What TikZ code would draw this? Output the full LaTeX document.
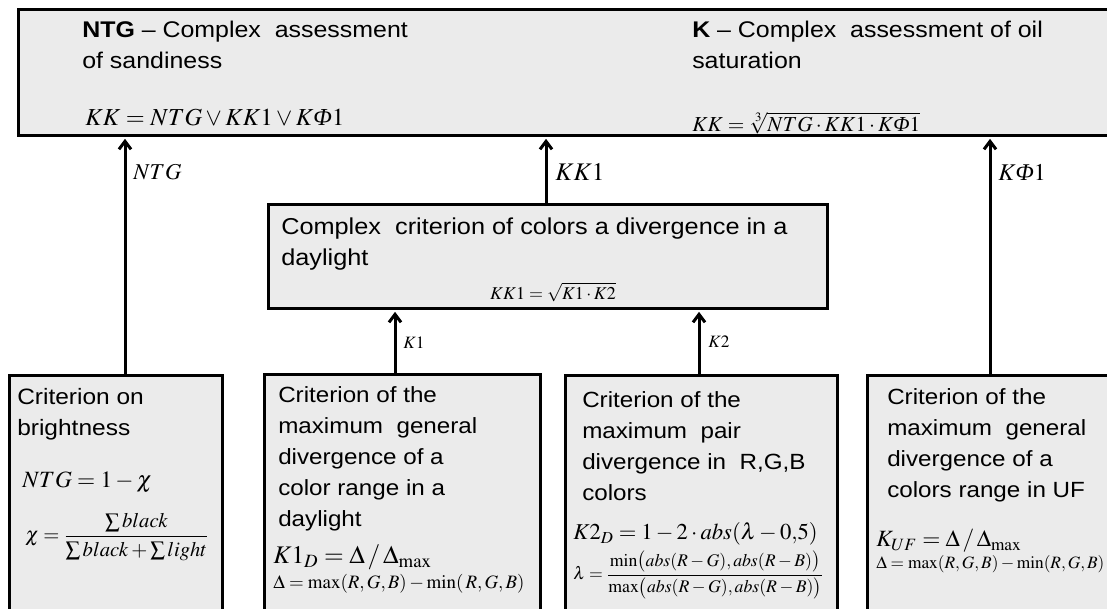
\documentclass[tikz,border=0pt]{standalone}
\usepackage{amsmath}
\usepackage{mathptmx}
\usepackage[no-math]{fontspec}
\setmainfont{Liberation Sans}[FakeStretch=1.1]
\newfontfamily\serifit{Liberation Serif}
\usetikzlibrary{arrows.meta,fit,calc}
\definecolor{boxgray}{RGB}{235,235,235}
\newcommand\fs[1]{\fontsize{#1}{23.25}\selectfont}
\newcommand\Phiit{\mbox{\serifit\itshape Φ}}
\begin{document}
\begin{tikzpicture}[x=0.75pt,y=-0.75pt,
  box/.style={draw, line width=2.25pt, fill=boxgray, inner sep=0pt},
  arr/.style={line width=2.25pt, -{Straight Barb[length=6pt,width=9pt]}, shorten >=1pt},
  txt/.style={inner sep=0pt, align=left, anchor=north west},
  fml/.style={inner sep=0pt, anchor=west},
  lbl/.style={inner sep=0pt, anchor=west}]
\clip (0,0) rectangle (1107,609);
% boxes
\node[box, fit={(18,10) (1125,136)}] (top) {};
\node[box, fit={(268,205) (827,309)}] (mid) {};
\node[box, fit={(9,376) (222,630)}] (b1) {};
\node[box, fit={(264,375) (540,630)}] (b2) {};
\node[box, fit={(565,376) (837,630)}] (b3) {};
\node[box, fit={(867,376) (1125,630)}] (b4) {};
% arrow x positions
\coordinate (xa) at (125,0);
\coordinate (xb) at (546,0);
\coordinate (xc) at (395,0);
\coordinate (xd) at (699,0);
\coordinate (xe) at (990,0);
\draw[arr] (b1.north -| xa) -- (top.south -| xa);
\draw[arr] (mid.north -| xb) -- (top.south -| xb);
\draw[arr] (b2.north -| xc) -- (mid.south -| xc);
\draw[arr] (b3.north -| xd) -- (mid.south -| xd);
\draw[arr] (b4.north -| xe) -- (top.south -| xe);
% arrow labels
\node[lbl, font=\fs{17}] (lntg) at (133,172) {$NTG$};
\node[lbl, font=\fs{19}] (lkk) at (555,172) {$KK1$};
\node[lbl, font=\fs{18}] (lkf) at (998,172) {$K\Phiit 1$};
\node[lbl, font=\fs{13}] (lk1) at (403,343) {$K1$};
\node[lbl, font=\fs{13}] (lk2) at (708,342) {$K2$};
% top box texts
\node[txt, font=\fs{17}] (tl) at (82,21) {\textbf{NTG} – Complex~ assessment\\of sandiness};
\node[txt, font=\fs{17}] (tr) at (692,21) {\textbf{K} – Complex~ assessment of oil\\saturation};
\node[fml, font=\fs{18.3}] (ftl) at (85,118) {$KK = NTG \vee KK1 \vee K\Phiit 1$};
\node[fml, font=\fs{16}] (ftr) at (692,123) {$KK = \sqrt[3]{NTG\cdot KK1\cdot K\Phiit 1}$};
% middle box
\node[txt, font=\fs{17.25}] (tm) at (281,218) {Complex~ criterion of colors a divergence in a\\daylight};
\node[inner sep=0pt, font=\fs{13.5}] (fm) at (553,292) {$KK1=\sqrt{K1\cdot K2}$};
% bottom boxes
\node[txt, font=\fs{16.7}] (t1) at (17,388) {Criterion on\\brightness};
\node[fml, font=\fs{17.5}] (f1a) at (22,482) {$NTG=1-\chi$};
\node[fml, font=\fs{15.5}] (f1b) at (25,537) {$\chi=\dfrac{\sum black}{\sum black+\sum light}$};
\node[txt, font=\fs{16.5}] (t2) at (278,386) {Criterion of the\\maximum~ general\\divergence of a\\color range in a\\daylight};
\node[fml, font=\fs{19}] (f2a) at (273,557) {$K1_D=\Delta\,/\,\Delta_{\max}$};
\node[fml, font=\fs{14.2}] (f2b) at (273,584) {$\Delta=\max(R,G,B)-\min(\,R,G,B)$};
\node[txt, font=\fs{16.5}] (t3) at (582,391) {Criterion of the\\maximum~ pair\\divergence in~ R,G,B\\colors};
\node[fml, font=\fs{17}] (f3a) at (573,534) {$K2_D=1-2\cdot abs(\lambda-0{,}5)$};
\node[fml, font=\fs{13.3}] (f3b) at (573,575) {$\lambda=\dfrac{\min\bigl(abs(R-G),abs(R-B)\bigr)}{\max\bigl(abs(R-G),abs(R-B)\bigr)}$};
\node[txt, font=\fs{16.5}] (t4) at (887,388) {Criterion of the\\maximum~ general\\divergence of a\\colors range in UF};
\node[fml, font=\fs{17.5}] (f4a) at (876,541) {$K_{UF}=\Delta\,/\,\Delta_{\max}$};
\node[fml, font=\fs{13}] (f4b) at (876,564) {$\Delta=\max(R,G,B)-\min(R,G,B)$};
\end{tikzpicture}
\end{document}
